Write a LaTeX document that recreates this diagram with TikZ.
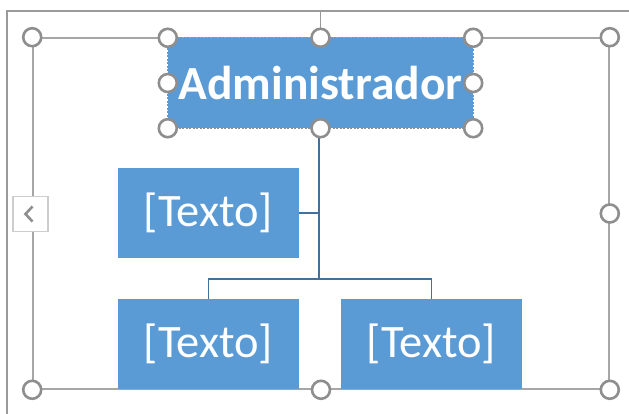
\documentclass[tikz,border=0pt]{standalone}
\usepackage{fontspec}
\setmainfont{Carlito}
\definecolor{boxblue}{HTML}{5B9BD5}
\definecolor{connblue}{HTML}{41719C}
\definecolor{framegray}{HTML}{A6A6A6}
\definecolor{outergray}{HTML}{9A9A9A}
\definecolor{handlegray}{HTML}{8E8E8E}
\definecolor{btngray}{HTML}{CDCDCD}
\begin{document}
\begin{tikzpicture}[x=1pt,y=-1pt,
  orgbox/.style={fill=boxblue,inner sep=0pt,text=white,minimum width=181pt,minimum height=90pt,font=\fontsize{46.5}{52}\selectfont},
  adminbox/.style={orgbox,minimum width=305pt,font=\fontsize{47.5}{53}\selectfont\bfseries},
  conn/.style={draw=connblue,line width=1.6pt},
  selframe/.style={draw=framegray,line width=1.6pt},
  outerframe/.style={draw=outergray,line width=2pt},
  handle/.style={circle,draw=handlegray,fill=white,line width=2.6pt,minimum size=18pt,inner sep=0pt},
  dashframe/.style={draw=handlegray,line width=0.8pt,dash pattern=on 2pt off 1.5pt},
  btn/.style={draw=btngray,fill=white,line width=1.2pt,minimum width=35pt,minimum height=35pt,inner sep=0pt}]
\useasboundingbox (0,0) rectangle (629,414);
% outer frame
\coordinate (otl) at (7,11);
\draw[outerframe] (7,414) -- (otl) -- (629,11);
% selection frame
\node[selframe,minimum width=576pt,minimum height=351pt,inner sep=0pt] (sel) at (321,213.5) {};
% boxes
\node[adminbox] (admin) at (320.5,83) {Administrador};
\node[orgbox] (b1) at (208.5,213) {[Texto]};
\node[orgbox] (b2) at (208.5,344) {[Texto]};
\node[orgbox] (b3) at (431.5,344) {[Texto]};
% connectors
\coordinate (j) at (319,279);
\draw[conn] (admin.south -| j) -- (j);
\draw[conn] (b1.east) -- (b1.east -| j);
\draw[conn] (b2.north) -- (b2.north |- j) -- (b3.north |- j) -- (b3.north);
% dashed border of selected shape
\draw[dashframe] (admin.north west) rectangle (admin.south east);
% line from outer frame to top handle
\draw[outerframe,line width=1.6pt] (otl -| admin.north) -- (admin.north);
% selection frame handles
\node[handle] (s1) at (sel.north west) {};
\node[handle] (s2) at (sel.north east) {};
\node[handle] (s3) at (sel.south west) {};
\node[handle] (s4) at (sel.south east) {};
\node[handle] (s5) at (sel.east) {};
\node[handle] (s6) at (sel.south) {};
% shape handles
\node[handle] (a1) at (admin.north west) {};
\node[handle] (a2) at (admin.north east) {};
\node[handle] (a3) at (admin.south west) {};
\node[handle] (a4) at (admin.south east) {};
\node[handle] (a5) at (admin.west) {};
\node[handle] (a6) at (admin.east) {};
\node[handle] (a7) at (admin.north) {};
\node[handle] (a8) at (admin.south) {};
% text pane button
\node[btn] (btn) at (30.5,214) {};
\draw[handlegray,line width=2.6pt] ([xshift=2pt,yshift=-7.5pt]btn.center) -- ([xshift=-5pt]btn.center) -- ([xshift=2pt,yshift=7.5pt]btn.center);
\end{tikzpicture}
\end{document}
